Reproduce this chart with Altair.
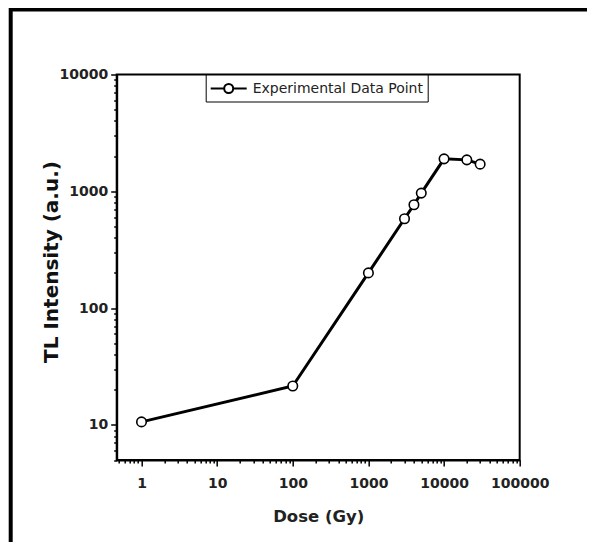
import altair as alt
import pandas as pd

# ---- data ----
dose = [1, 100, 1000, 3000, 4000, 5000, 10000, 20000, 30000]
intensity = [10.6, 21.5, 200, 582, 767, 965, 1896, 1858, 1708]
series_name = "Experimental Data Point"

def minor_ticks(lo, hi):
    vals = []
    d = 0.1
    while d <= hi:
        for m in range(1, 10):
            v = round(m * d, 6)
            if lo <= v <= hi:
                vals.append(v)
        d *= 10
    return vals

x_ticks = minor_ticks(0.5, 100000)
y_ticks = minor_ticks(5, 10000)

df = pd.DataFrame({"Dose": dose, "TL": intensity, "series": [series_name] * len(dose)})

FONT = "DejaVu Sans"
W, H = 403, 385.5
is_decade = "abs(log(datum.value)/LN10 - round(log(datum.value)/LN10)) < 0.001"
label_expr = f"{is_decade} ? format(datum.value, 'd') : ''"
tick_size = {"condition": {"test": is_decade, "value": 6}, "value": 3}

x_scale = alt.Scale(type="log", domain=[0.47, 100000], nice=False)
y_scale = alt.Scale(type="log", domain=[5, 10000], nice=False)

x_axis = alt.Axis(
    title="Dose (Gy)", values=x_ticks, labelExpr=label_expr, tickSize=tick_size,
    grid=False, labelOverlap=False, labelFlush=False, labelBound=False,
    labelFont=FONT, labelFontSize=14, labelFontWeight="bold", labelColor="#222",
    labelPadding=11, titleFont=FONT, titleFontSize=16.5, titleFontWeight="bold",
    titleColor="#222", titleX=W / 2, titleY=57, titleBaseline="middle",
    domainColor="black", domainWidth=2, tickColor="black", tickWidth=1.5,
)
y_axis = alt.Axis(
    title="TL Intensity (a.u.)", values=y_ticks, labelExpr=label_expr, tickSize=tick_size,
    grid=False, labelOverlap=False, labelFlush=False, labelBound=False,
    labelFont=FONT, labelFontSize=14, labelFontWeight="bold", labelColor="#222",
    labelPadding=3, titleFont=FONT, titleFontSize=20, titleFontWeight="bold",
    titleColor="#111", titleX=-65, titleY=187, titleBaseline="middle",
    domainColor="black", domainWidth=2, tickColor="black", tickWidth=1.5,
)

legend_symbol = ("M-2,0 L-0.5,0 M0.5,0 L2,0 "
                 "M-0.5,0 A0.5,0.5 0 1,0 0.5,0 A0.5,0.5 0 1,0 -0.5,0 Z")

base = alt.Chart(df)

line = base.mark_line(strokeWidth=3, clip=False).encode(
    x=alt.X("Dose:Q", scale=x_scale, axis=x_axis),
    y=alt.Y("TL:Q", scale=y_scale, axis=y_axis),
    color=alt.Color(
        "series:N",
        scale=alt.Scale(range=["black"]),
        legend=alt.Legend(
            title=None, orient="none", legendX=89, legendY=0,
            symbolType=legend_symbol, symbolSize=324, symbolStrokeWidth=2,
            symbolFillColor="white", symbolStrokeColor="black",
            symbolOffset=9, labelOffset=14, labelLimit=400,
            labelFont=FONT, labelFontSize=14, labelColor="#222",
            strokeColor="black", padding=4, offset=0,
            fillColor="white",
        ),
    ),
)

points = base.mark_point(
    shape="circle", size=90, filled=True, fill="white", stroke="black",
    strokeWidth=1.6, opacity=1, clip=False
).encode(
    x=alt.X("Dose:Q", scale=x_scale),
    y=alt.Y("TL:Q", scale=y_scale),
)

frame = alt.Chart(pd.DataFrame({"f": [0]})).mark_rect(
    filled=False, fill=None, stroke="black", strokeWidth=4, clip=False
).encode(
    x=alt.value(-106), x2=alt.value(600), y=alt.value(-65), y2=alt.value(600)
)

chart = alt.layer(frame, line, points).properties(
    width=W, height=H,
    background="white",
    autosize=alt.AutoSizeParams(type="none"),
    padding={"left": 108.7, "top": 66.5, "right": 67, "bottom": 82},
).configure_view(stroke="black", strokeWidth=2)

chart.save("out.html", embed_options={"renderer": "svg", "actions": False})
